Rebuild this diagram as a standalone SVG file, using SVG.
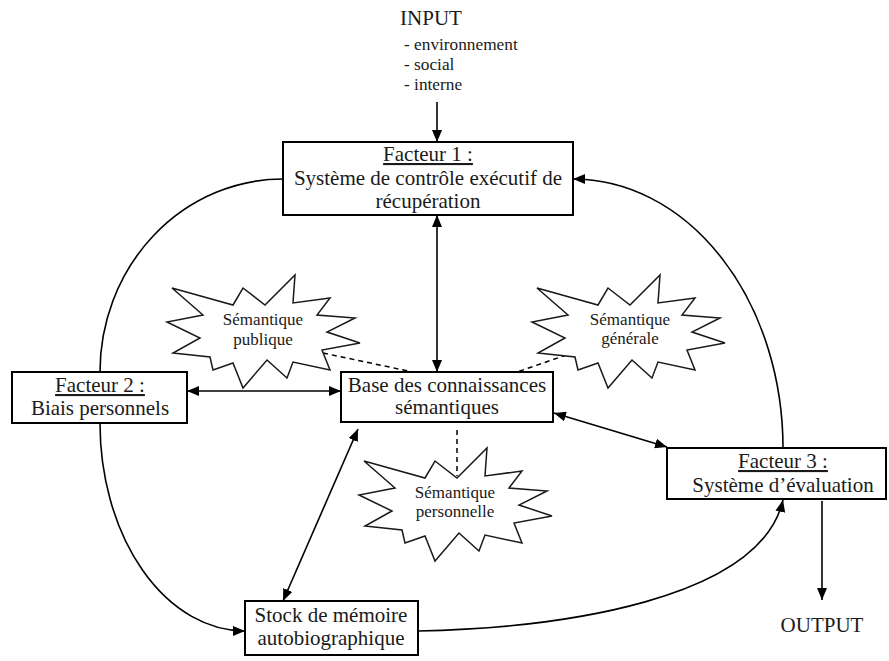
<svg xmlns="http://www.w3.org/2000/svg" xmlns:xlink="http://www.w3.org/1999/xlink" width="889" height="661" viewBox="0 0 889 661">
<style>
text{font-family:"Liberation Serif","Times New Roman",serif;fill:#1a1a1a;text-anchor:middle}
.t{font-size:21px}
.s{font-size:17px}
.l{font-size:17.3px;text-anchor:start}
.u{text-decoration:underline}
.box{fill:#fff;stroke:#000;stroke-width:2}
.star{fill:#fff;stroke:#1a1a1a;stroke-width:1.5;stroke-linejoin:miter}
.c{fill:none;stroke:#000;stroke-width:1.6}
.d{fill:none;stroke:#000;stroke-width:1.5;stroke-dasharray:5 4}
</style>
<defs>
<marker id="ah" viewBox="0 0 12 10" refX="12" refY="5" markerWidth="12" markerHeight="10" markerUnits="userSpaceOnUse" orient="auto-start-reverse">
<path d="M0,0 L12,5 L0,10 z" fill="#000"/>
</marker>
<polygon id="star" class="star" points="172,288 233,305 243,288 265,305 295,275 293,303 330,298 317,315 355,318 327,332 360,343 322,350 330,370 293,362 287,378 267,360 243,388 233,363 213,370 210,357 173,353 200,338 167,322 203,315"/>
</defs>
<rect width="889" height="661" fill="#fff"/>

<g id="connectors">
<line class="c" x1="437" y1="102" x2="437" y2="142" marker-end="url(#ah)"/>
<line class="c" x1="437" y1="215" x2="437" y2="372" marker-start="url(#ah)" marker-end="url(#ah)"/>
<line class="c" x1="187" y1="391" x2="341" y2="391" marker-start="url(#ah)" marker-end="url(#ah)"/>
<line class="c" x1="554" y1="413" x2="667" y2="447" marker-start="url(#ah)" marker-end="url(#ah)"/>
<line class="c" x1="358" y1="429" x2="283" y2="601" marker-start="url(#ah)" marker-end="url(#ah)"/>
<path class="c" d="M283,179 A183,193 0 0 0 100,372"/>
<path class="c" d="M100,423 A145,208 0 0 0 245,631" marker-end="url(#ah)"/>
<path class="c" d="M783,448 A210,269 0 0 0 573,179" marker-end="url(#ah)"/>
<path class="c" d="M418,631 C560,628 760,600 783,500" marker-end="url(#ah)"/>
<line class="c" x1="822" y1="501" x2="822" y2="600" marker-end="url(#ah)"/>
<line class="d" x1="323" y1="353" x2="413" y2="372"/>
<line class="d" x1="575" y1="352" x2="517" y2="372"/>
<line class="d" x1="457" y1="430" x2="457" y2="476"/>
</g>

<g id="input">
<text class="t" x="431" y="25">INPUT</text>
<text class="l" x="404" y="50">- environnement</text>
<text class="l" x="404" y="70">- social</text>
<text class="l" x="404" y="90">- interne</text>
</g>

<g id="facteur1">
<rect class="box" x="283" y="142" width="290" height="73"/>
<text class="t u" x="428" y="161">Facteur 1 :</text>
<text class="t" x="428" y="185">Système de contrôle exécutif de</text>
<text class="t" x="428" y="208">récupération</text>
</g>

<g id="facteur2">
<rect class="box" x="12" y="372" width="175" height="51"/>
<text class="t u" x="100" y="392">Facteur 2 :</text>
<text class="t" x="100" y="415">Biais personnels</text>
</g>

<g id="base">
<rect class="box" x="341" y="372" width="212" height="50"/>
<text class="t" x="447" y="392">Base des connaissances</text>
<text class="t" x="447" y="414">sémantiques</text>
</g>

<g id="facteur3">
<rect class="box" x="667" y="448" width="219" height="51"/>
<text class="t u" x="783" y="468">Facteur 3 :</text>
<text class="t" x="783" y="492">Système d’évaluation</text>
</g>

<g id="stock">
<rect class="box" x="245" y="601" width="173" height="54"/>
<text class="t" x="331" y="622">Stock de mémoire</text>
<text class="t" x="331" y="645">autobiographique</text>
</g>

<g id="publique">
<use xlink:href="#star"/>
<text class="s" x="263" y="325">Sémantique</text>
<text class="s" x="263" y="345">publique</text>
</g>

<g id="generale">
<use xlink:href="#star" transform="translate(365,0)"/>
<text class="s" x="630" y="325">Sémantique</text>
<text class="s" x="630" y="344">générale</text>
</g>

<g id="personnelle">
<use xlink:href="#star" transform="translate(192,173)"/>
<text class="s" x="455" y="498">Sémantique</text>
<text class="s" x="455" y="517">personnelle</text>
</g>

<g id="output">
<text class="t" x="822" y="632">OUTPUT</text>
</g>
</svg>
